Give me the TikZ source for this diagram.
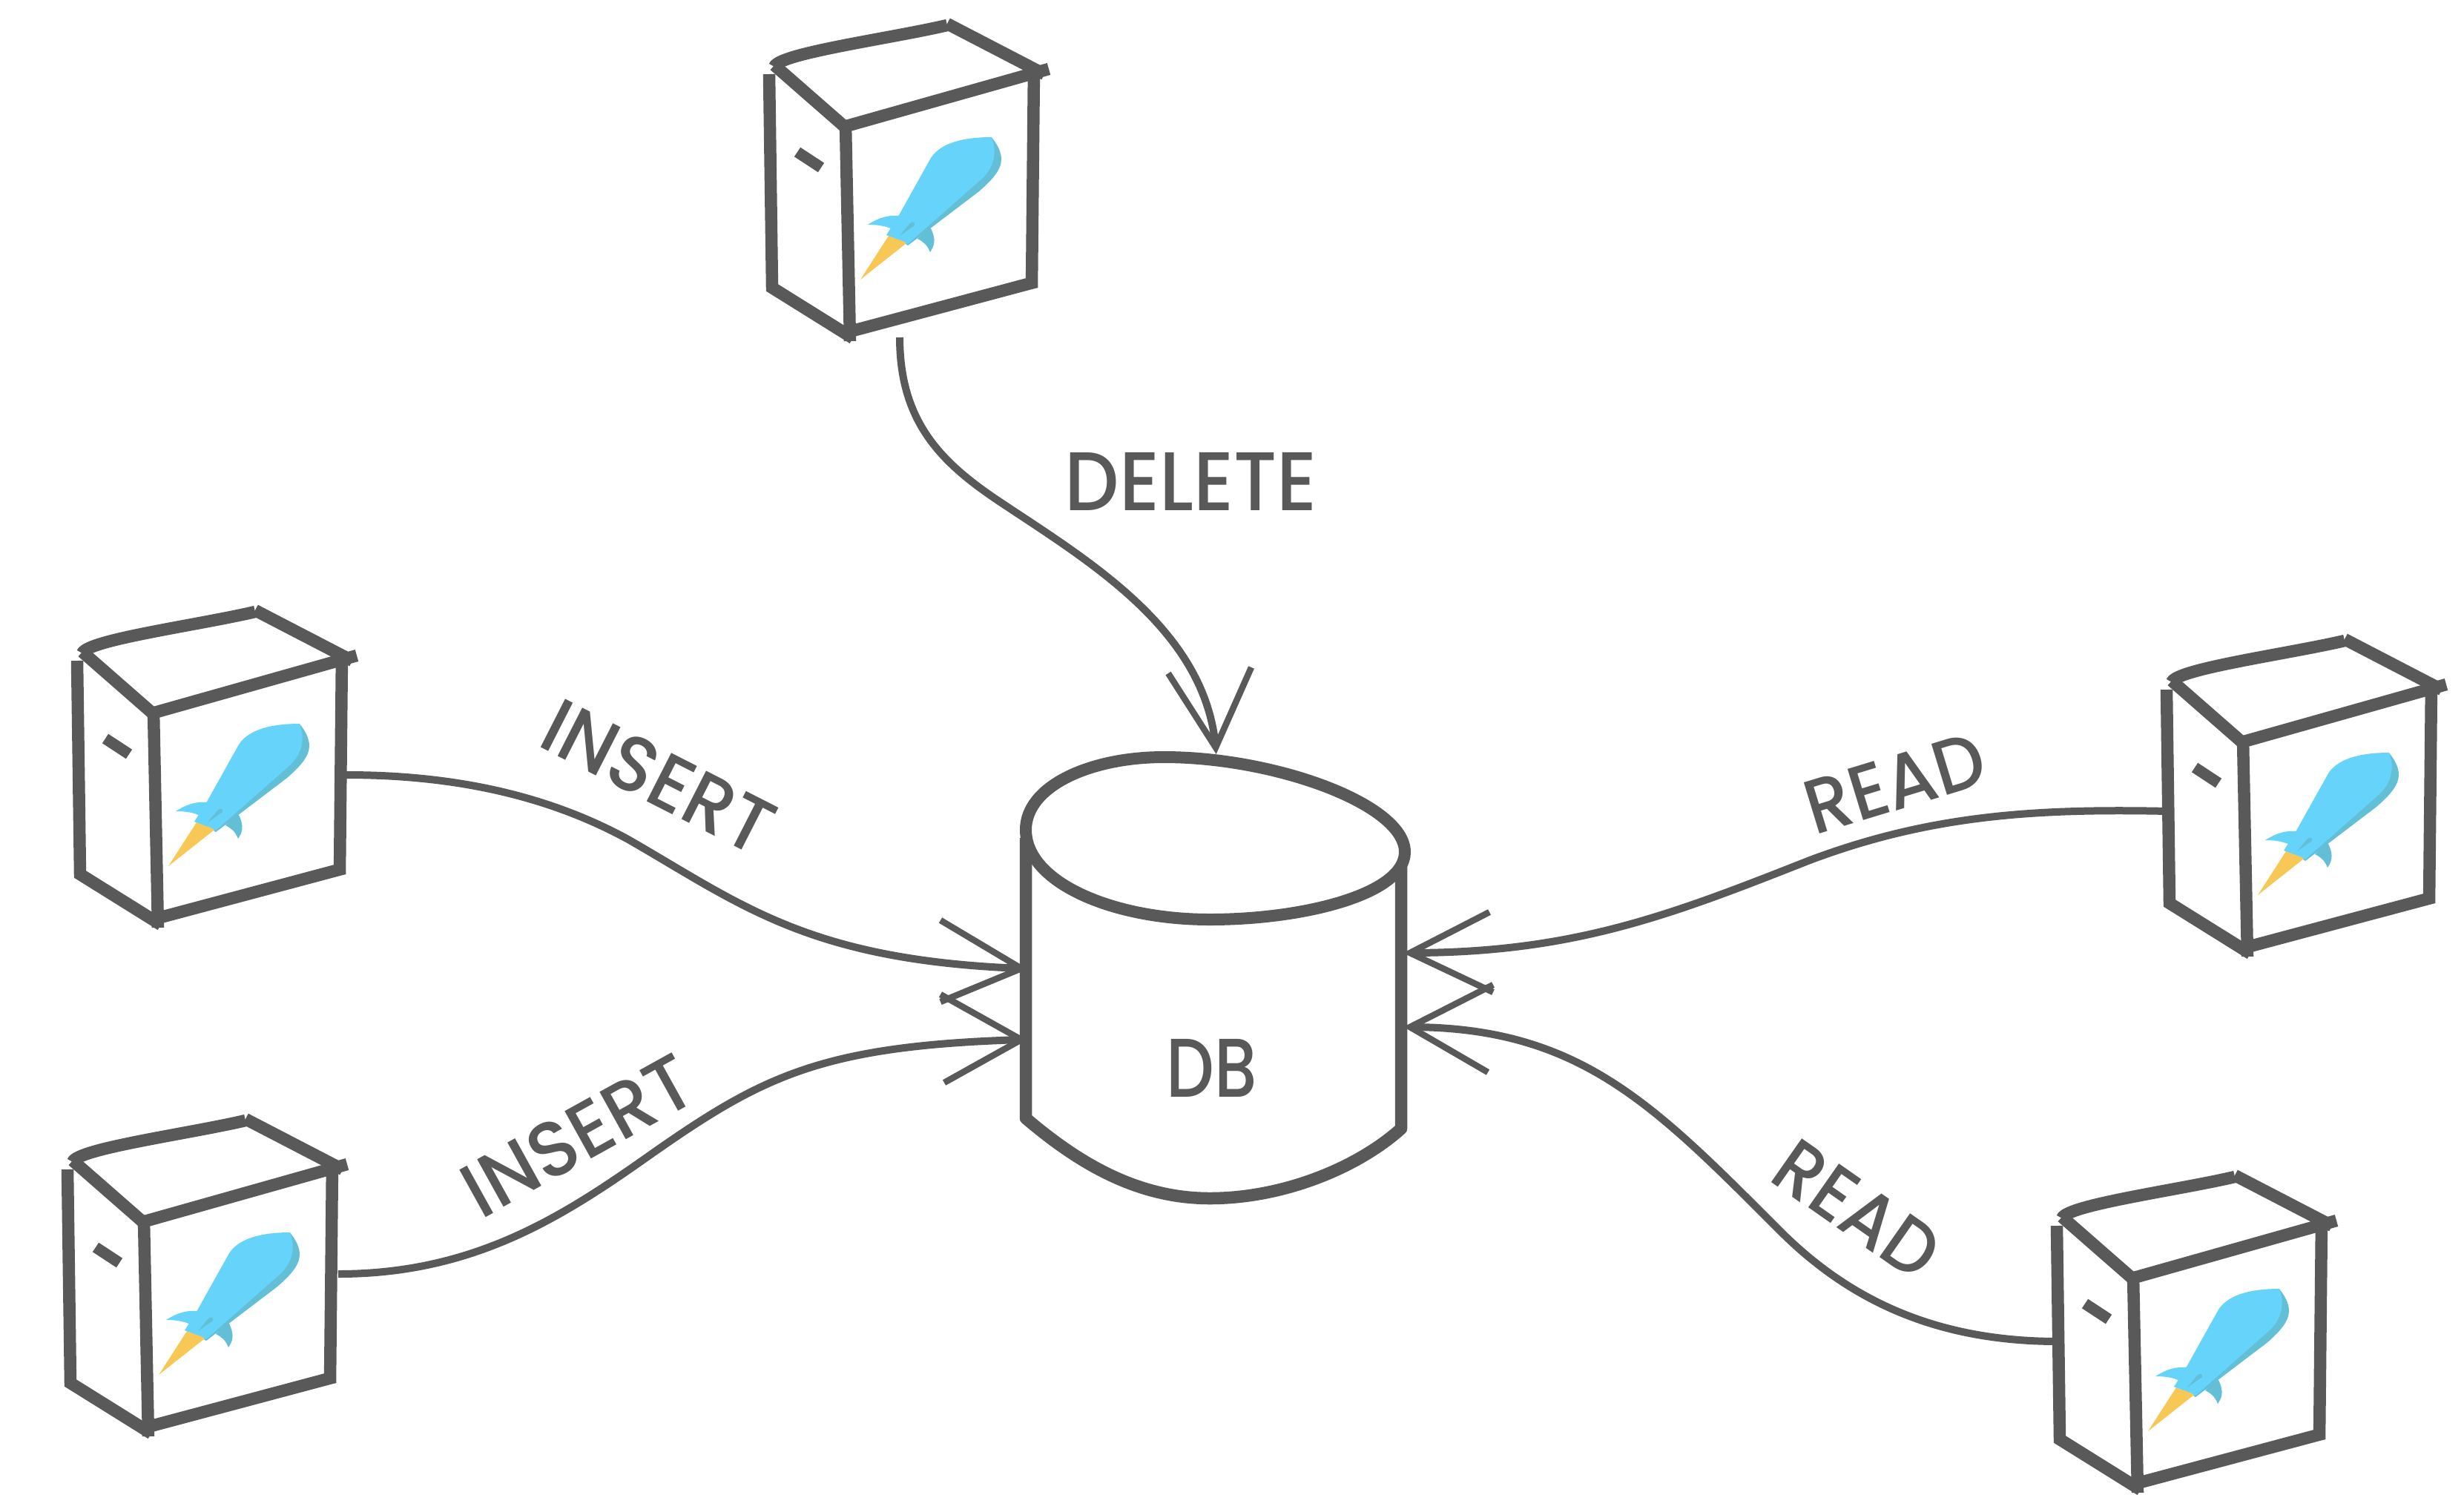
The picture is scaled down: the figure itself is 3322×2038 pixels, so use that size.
\documentclass[tikz,border=0pt]{standalone}
\usepackage{fontspec}
\setmainfont{Poppins}[UprightFont=* Medium]
\definecolor{ink}{HTML}{595959}
\definecolor{rocketblue}{HTML}{66D4FA}
\definecolor{rocketshade}{HTML}{62BFD6}
\definecolor{flame}{HTML}{F7C855}
\newcommand{\lbl}[3]{\resizebox{#1pt}{#2pt}{#3}}
\tikzset{
  box/.style={draw=ink,line width=16.5pt,line cap=butt,line join=miter},
  link/.style={draw=ink,line width=10pt},
  barb/.style={draw=ink,line width=8.5pt,line join=miter},
  word/.style={text=ink,inner sep=0pt,outer sep=0pt},
  pics/server/.style={code={
    \draw[box] (37,100) -- (41,388) -- (150,456);
    \draw[box] (140,168) -- (146,460);
    \draw[box] (146,447) -- (397,380);
    \draw[box] (394,92) -- (391,388);
    \draw[box] (134,172) -- (414,93);
    \draw[box] (44,88) -- (140,172);
    \draw[box,line join=round] (44,90) .. controls (50,72) and (200,52) .. (277,34);
    \draw[box] (277,32) -- (408,100);
    \draw[ink,line width=15pt] (75,205) -- (107,226);
    \fill[rocketshade] (336.7,185) .. controls (345,195) and (350,205) .. (350,215) .. controls (350,230) and (335,245) .. (320,258) -- (224,331) -- (215,325) -- (320,240) .. controls (340,220) and (342,205) .. cycle;
    \fill[rocketblue] (336.7,185) .. controls (345,205) and (340,225) .. (325,240) -- (224,329) -- (195,317) -- (212,290) -- (255,213) .. controls (270,190) and (306,185) .. cycle;
    \fill[rocketblue] (170,303) .. controls (187,292) and (200,290) .. (212,291) -- (205,310) .. controls (195,305) and (185,303) .. cycle;
    \fill[rocketshade] (237,322) -- (250,308) -- (255,308) .. controls (263,325) and (259,332) .. (254,340) .. controls (250,330) and (245,326) .. cycle;
    \fill[flame] (198,318) .. controls (205,322) and (215,323) .. (222,328) -- (160,377) -- cycle;
    \fill[rocketshade] (213,318) -- (226,302) .. controls (230,298) and (234,299) .. (233,304) -- cycle;
  }}
}
\begin{document}
\begin{tikzpicture}[x=1pt,y=-1pt]
\useasboundingbox (0,0) rectangle (3322,2038);
\fill[white] (0,0) rectangle (3322,2038);
% servers
\pic (srvD) at (1000,0) {server};
\pic (srvIa) at (67,791) {server};
\pic (srvIb) at (54,1477) {server};
\pic (srvRa) at (2884,830) {server};
\pic (srvRb) at (2736,1553) {server};
% database
\draw[box,fill=white,line join=round] (1383,1130) -- (1383,1508) .. controls (1450,1565) and (1530,1616) .. (1631,1616) .. controls (1730,1616) and (1830,1575) .. (1889,1522) -- (1889,1150);
\draw[draw=ink,line width=16pt,fill=white] (1383,1119) .. controls (1383,1060) and (1470,1021) .. (1569,1021) .. controls (1720,1021) and (1894,1085) .. (1894,1149) .. controls (1894,1205) and (1760,1240) .. (1631,1240) .. controls (1500,1240) and (1383,1190) .. (1383,1119) -- cycle;
\node[word] (dbLabel) at (1634,1440) {\lbl{122}{78}{DB}};
% connector ends
\coordinate (startD) at (1213,455);
\coordinate (startIa) at (467,1045);
\coordinate (startIb) at (456,1718);
\coordinate (startRa) at (2923,1094);
\coordinate (startRb) at (2775,1809);
\coordinate (tipD) at (1639,1008);
\coordinate (tipIa) at (1377,1306);
\coordinate (tipIb) at (1377,1402);
\coordinate (tipRa) at (1901,1285);
\coordinate (tipRb) at (1901,1385);
% connectors
\draw[link] (startD) .. controls (1213,570) and (1270,625) .. (1350,678) .. controls (1470,758) and (1625,850) .. (tipD);
\draw[barb] (1575,908) -- (tipD) -- (1687,900);
\draw[link] (startIa) .. controls (600,1045) and (730,1068) .. (847,1132) .. controls (1000,1220) and (1090,1295) .. (tipIa);
\draw[barb] (1268,1241) -- (tipIa) -- (1268,1351);
\draw[link] (startIb) .. controls (640,1718) and (760,1640) .. (880,1555) .. controls (1030,1450) and (1110,1410) .. (tipIb);
\draw[barb] (1268,1341) -- (tipIb) -- (1273,1460);
\draw[link] (startRa) .. controls (2740,1090) and (2600,1100) .. (2440,1160) .. controls (2250,1235) and (2120,1285) .. (tipRa);
\draw[barb] (2008,1230) -- (tipRa) -- (2013,1338);
\draw[link] (startRb) .. controls (2620,1809) and (2500,1760) .. (2400,1660) .. controls (2230,1490) and (2130,1385) .. (tipRb);
\draw[barb] (2013,1328) -- (tipRb) -- (2006,1446);
% labels
\node[word] (delLabel) at (1606,649) {\lbl{340}{78}{DELETE}};
\node[word,rotate=-27] (insLabelA) at (888,1048) {\lbl{335}{74}{INSERT}};
\node[word,rotate=29] (insLabelB) at (779,1531) {\lbl{338}{74}{INSERT}};
\node[word,rotate=17] (readLabelA) at (2555,1056) {\lbl{248}{72}{READ}};
\node[word,rotate=-35] (readLabelB) at (2504,1631) {\lbl{245}{72}{READ}};
\end{tikzpicture}
\end{document}
